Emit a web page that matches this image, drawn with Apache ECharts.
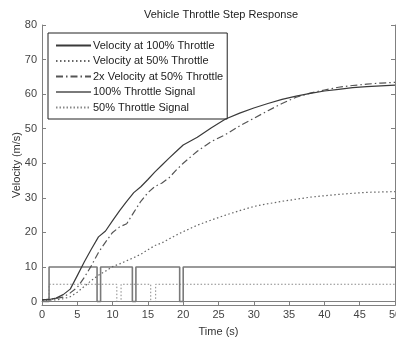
<!DOCTYPE html>
<html>
<head>
<meta charset="utf-8">
<script src="https://cdn.jsdelivr.net/npm/echarts@6/dist/echarts.min.js"></script>
<style>
  html, body { margin: 0; padding: 0; background: #fff; }
  #chart { width: 396px; height: 337px; }
</style>
</head>
<body>
<div id="chart"></div>
<script>
// time grid for the velocity traces (s)
var timeS = [0,1,2,3,4,5,6,7,8,9,10,11,12,13,14,15,16,17,18,19,20,22,24,26,28,30,32,34,36,38,40,42,44,46,48,50];
var vel100 = [0.5,0.6,1.0,2.0,3.6,7.5,11.5,15.2,18.7,20.4,23.4,26.3,29.0,31.5,33.2,35.3,37.5,39.5,41.5,43.4,45.3,47.5,50.3,52.8,54.5,56.0,57.3,58.5,59.4,60.2,60.9,61.4,61.9,62.2,62.4,62.6];
var vel50 = [0.3,0.4,0.5,0.8,1.4,2.7,4.4,6.1,7.6,8.8,10.1,10.9,11.8,12.7,13.7,15.0,16.2,17.0,18.1,19.2,20.2,22.1,23.6,25.0,26.3,27.5,28.3,29.0,29.6,30.2,30.6,31.0,31.3,31.6,31.7,31.8];
var vel50x2 = [0.5,0.6,0.9,1.3,2.5,4.1,7.0,10.4,14.2,17.2,20.0,21.6,22.5,25.8,29.0,31.5,33.3,34.3,35.8,38.0,40.0,43.5,46.3,48.3,50.8,53.0,55.2,57.3,59.1,60.3,61.2,62.0,62.5,62.9,63.2,63.4];

// throttle signals (step points)
var sig100T = [0,1,1,7.8,7.8,8.3,8.3,12.8,12.8,13.3,13.3,19.5,19.5,20,20,50];
var sig100V = [0,0,10,10,0,0,10,10,0,0,10,10,0,0,10,10];
var sig50T = [0,1,1,10.6,10.6,11.2,11.2,15.4,15.4,16.1,16.1,50];
var sig50V = [0,0,5,5,0,0,5,5,0,0,5,5];

var yTicks = [0,10,20,30,40,50,60,70,80];

function pairs(xs, ys) {
    return xs.map(function (x, i) { return [x, ys[i]]; });
}

var chart = echarts.init(document.getElementById('chart'));
var font = 'Arial, "Liberation Sans", sans-serif';
var axisGray = '#808080';

var option = {
    animation: false,
    backgroundColor: '#fff',
    textStyle: { fontFamily: font },
    title: {
        text: 'Vehicle Throttle Step Response',
        left: 216, top: 4, textAlign: 'center',
        textStyle: { fontSize: 11, fontWeight: 'normal', color: '#222', fontFamily: font }
    },
    grid: { left: 42, right: 1, top: 25, bottom: 32, outerBoundsMode: 'none' },
    legend: {
        orient: 'vertical',
        left: 48, top: 33,
        padding: [7, 4, 6, 7],
        itemWidth: 35, itemHeight: 10, itemGap: 4.5,
        borderColor: '#222', borderWidth: 1,
        backgroundColor: '#fff',
        itemStyle: { opacity: 0, borderWidth: 0 },
        textStyle: { fontSize: 11, color: '#222', padding: [0, 0, 0, -3], fontFamily: font },
        data: ['Velocity at 100% Throttle', 'Velocity at 50% Throttle', '2x Velocity at 50% Throttle',
               '100% Throttle Signal', '50% Throttle Signal']
    },
    xAxis: [{
        type: 'value', min: 0, max: 50, interval: 5,
        name: 'Time (s)', nameLocation: 'middle', nameGap: 21,
        nameTextStyle: { fontSize: 11, color: '#333' },
        axisLine: { onZero: false, lineStyle: { color: axisGray } },
        axisTick: { inside: true, length: 4, lineStyle: { color: axisGray } },
        axisLabel: { fontSize: 11, color: '#444', margin: 4 },
        splitLine: { show: false }
    }, {
        type: 'value', min: 0, max: 50, interval: 5, position: 'top',
        axisLine: { lineStyle: { color: axisGray } },
        axisTick: { inside: true, length: 4, lineStyle: { color: axisGray } },
        axisLabel: { show: false },
        splitLine: { show: false }
    }],
    yAxis: [{
        type: 'value', min: -1, max: 80,
        name: 'Velocity (m/s)', nameLocation: 'middle', nameGap: 20, nameMoveOverlap: false,
        nameTextStyle: { fontSize: 11, color: '#333' },
        axisLine: { show: true, onZero: false, lineStyle: { color: axisGray } },
        axisTick: { show: true, inside: true, length: 4, customValues: yTicks, lineStyle: { color: axisGray } },
        axisLabel: { fontSize: 11, color: '#444', margin: 5, customValues: yTicks },
        splitLine: { show: false }
    }, {
        type: 'value', min: -1, max: 80, position: 'right',
        axisLine: { show: true, onZero: false, lineStyle: { color: axisGray } },
        axisTick: { show: true, inside: true, length: 4, customValues: yTicks, lineStyle: { color: axisGray } },
        axisLabel: { show: false, customValues: yTicks },
        splitLine: { show: false }
    }],
    series: [{
        name: 'Velocity at 100% Throttle', type: 'line', symbol: 'none',
        data: pairs(timeS, vel100),
        lineStyle: { color: '#3a3a3a', width: 1.2, type: 'solid' },
        itemStyle: { color: '#3a3a3a' }, z: 5
    }, {
        name: 'Velocity at 50% Throttle', type: 'line', symbol: 'none',
        data: pairs(timeS, vel50),
        lineStyle: { color: '#666', width: 1.2, type: [1.5, 2.5] },
        itemStyle: { color: '#666' }, z: 4
    }, {
        name: '2x Velocity at 50% Throttle', type: 'line', symbol: 'none',
        data: pairs(timeS, vel50x2),
        lineStyle: { color: '#555', width: 1.2, type: [7, 3, 1.5, 3] },
        itemStyle: { color: '#555' }, z: 4
    }, {
        name: '100% Throttle Signal', type: 'line', symbol: 'none',
        data: pairs(sig100T, sig100V),
        lineStyle: { color: '#7a7a7a', width: 1.6, type: 'solid' },
        itemStyle: { color: '#555' }, z: 3
    }, {
        name: '50% Throttle Signal', type: 'line', symbol: 'none',
        data: pairs(sig50T, sig50V),
        lineStyle: { color: '#888', width: 1, type: [1.5, 2] },
        itemStyle: { color: '#888' }, z: 2
    }]
};

chart.setOption(option);
window.onresize = chart.resize;
</script>
</body>
</html>
